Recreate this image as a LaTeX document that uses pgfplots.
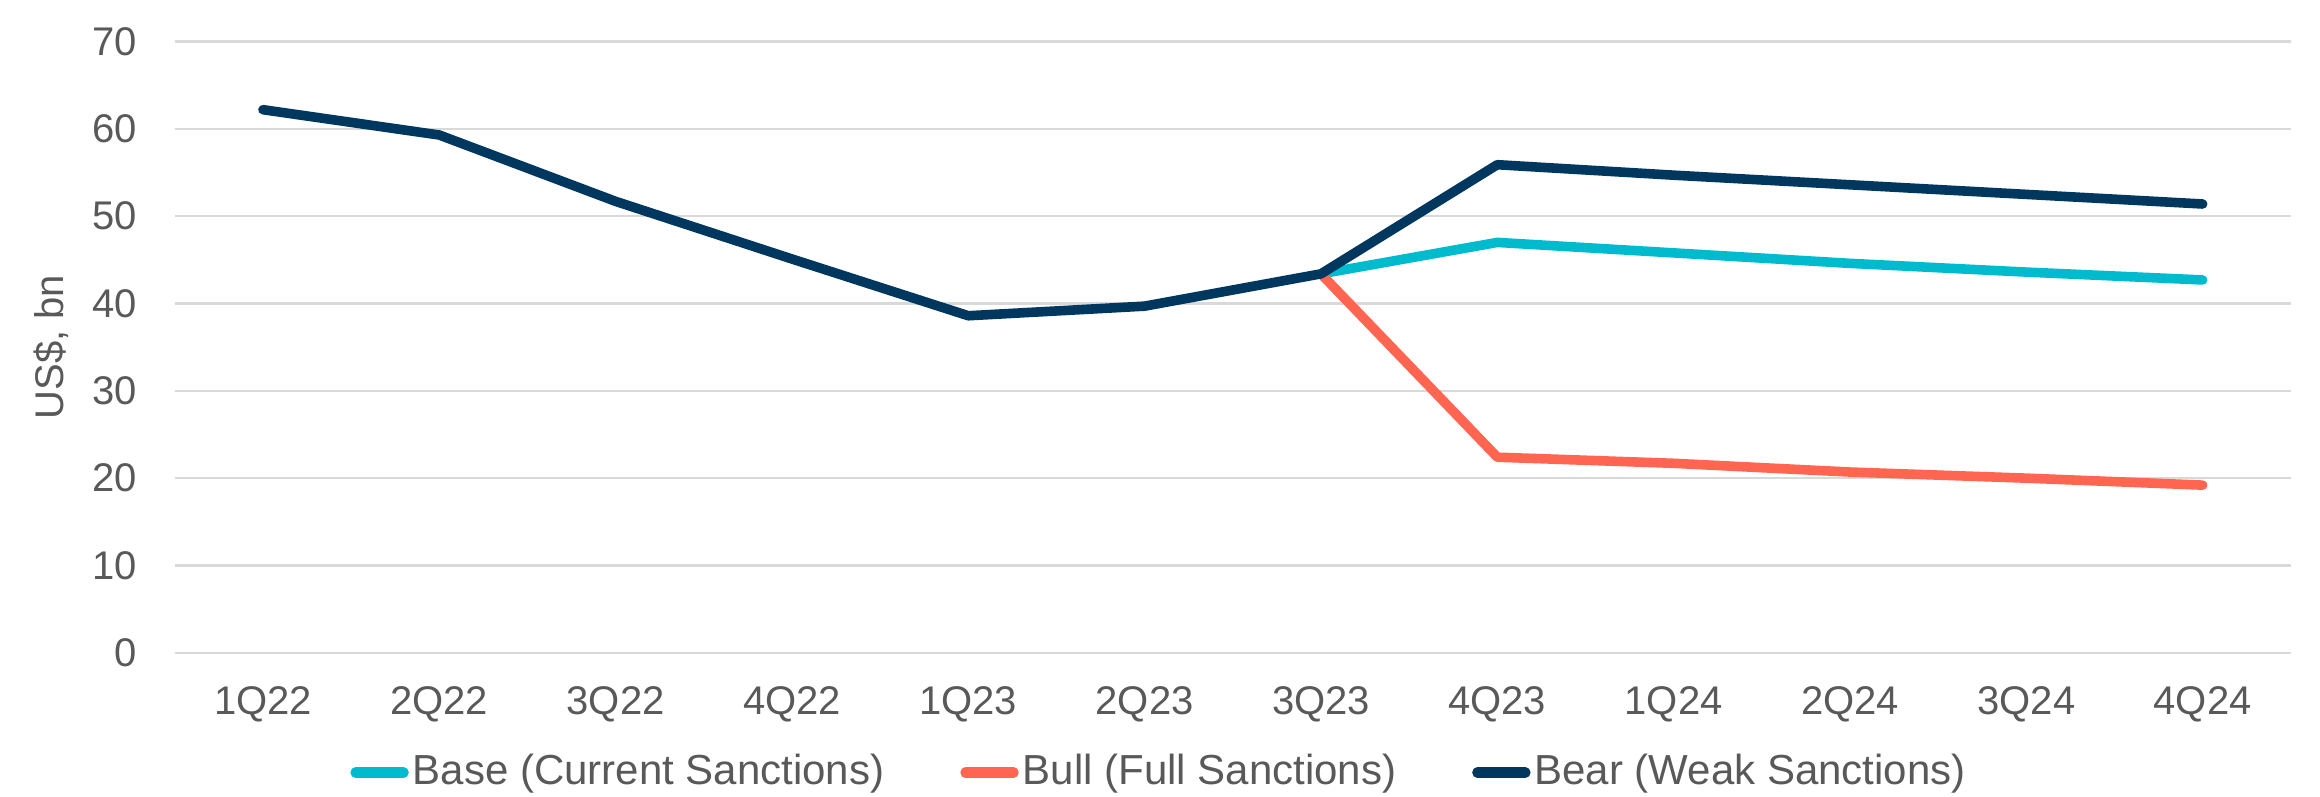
\documentclass[border=0pt]{standalone}
\usepackage{pgfplots}
\pgfplotsset{compat=1.18}
\usetikzlibrary{calc}
\usepackage{fontspec}
\setmainfont{Liberation Sans}
\definecolor{txt}{HTML}{595959}
\definecolor{gridc}{HTML}{D9D9D9}
\definecolor{base}{HTML}{00BBCE}
\definecolor{bull}{HTML}{FF6550}
\definecolor{bear}{HTML}{00375F}
\begin{document}
\begin{tikzpicture}
\begin{axis}[
    scale only axis,
    width=529pt, height=152.8pt,
    xmin=-0.5, xmax=11.5,
    ymin=0, ymax=70,
    ytick={0,10,...,70},
    xtick={0,...,11},
    xticklabels={1Q22,2Q22,3Q22,4Q22,1Q23,2Q23,3Q23,4Q23,1Q24,2Q24,3Q24,4Q24},
    axis line style={draw=none},
    major tick length=0pt,
    ymajorgrids, xmajorgrids=false,
    grid style={draw=gridc, line width=0.6pt},
    font=\fontsize{10}{12}\selectfont,
    tick label style={text=txt},
    /pgf/number format/assume math mode=true,
    yticklabel style={xshift=-6pt},
    xticklabel style={yshift=-5pt},
    ylabel={US\$, bn},
    ylabel style={text=txt, yshift=-1pt},
    legend columns=3,
    legend style={draw=none, at={(0.4656,-0.196)}, anchor=center, text=txt,
        inner sep=0pt,
        font=\fontsize{10.5}{12}\selectfont,
        nodes={inner xsep=1pt, inner ysep=0.5pt},
        /tikz/every even column/.append style={column sep=18pt}},
    legend image code/.code={\draw[#1, line width=2.6pt, line cap=round] (0pt,0pt) -- (12pt,0pt);},
    every axis plot/.append style={line width=2.4pt, line join=round, line cap=round},
]
\addplot[base] coordinates {(6,43.4) (7,47.0) (8,45.8) (9,44.6) (10,43.6) (11,42.7)};
\addlegendentry{Base (Current Sanctions)}
\addplot[bull] coordinates {(6,43.4) (7,22.4) (8,21.7) (9,20.7) (10,20.0) (11,19.2)};
\addlegendentry{Bull (Full Sanctions)}
\addplot[bear] coordinates {(0,62.2) (1,59.3) (2,51.7) (3,45.1) (4,38.6) (5,39.7) (6,43.4) (7,55.9) (8,54.7) (9,53.6) (10,52.5) (11,51.4)};
\addlegendentry{Bear (Weak Sanctions)}
\end{axis}
\useasboundingbox ($(current axis.south west)+(-43.7pt,-36pt)$) rectangle ($(current axis.north east)+(7.3pt,10.4pt)$);
\end{tikzpicture}
\end{document}
